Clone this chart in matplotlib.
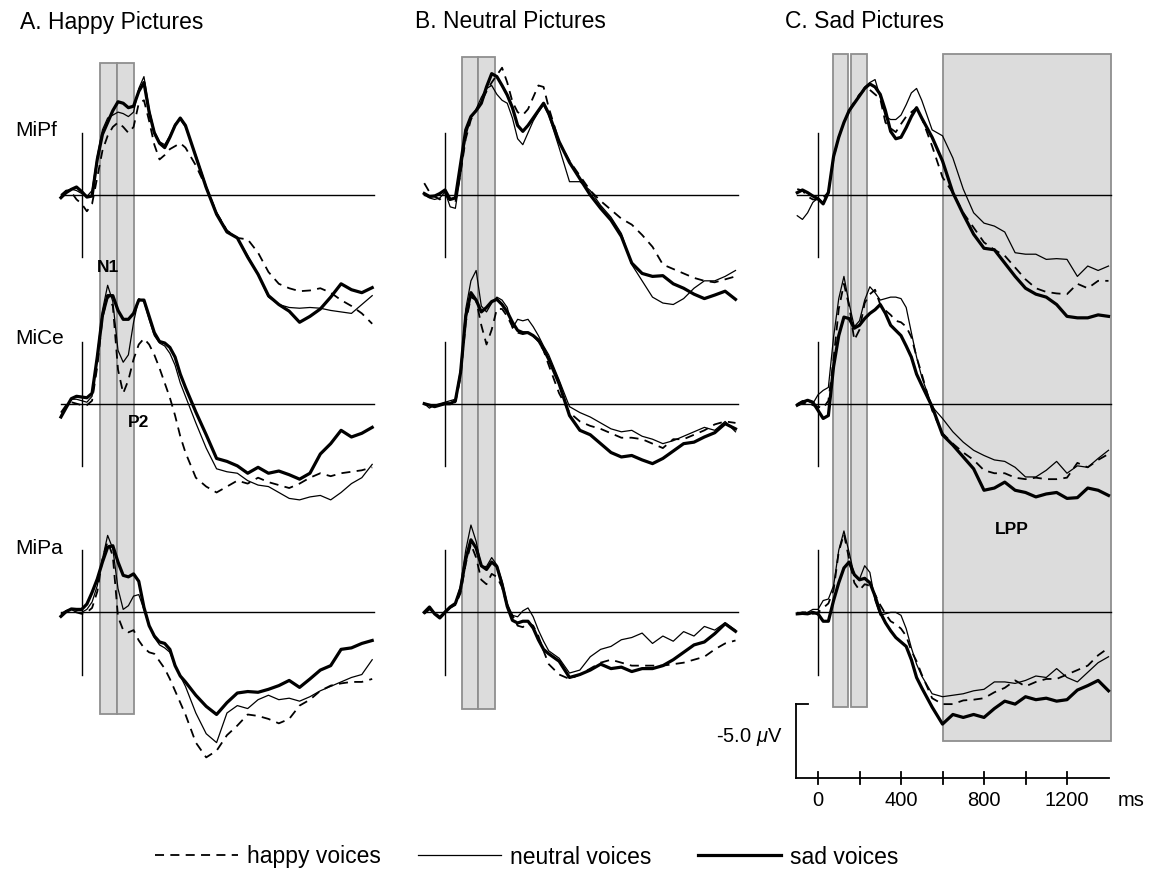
import matplotlib.pyplot as plt
from matplotlib.patches import Rectangle
from matplotlib.lines import Line2D

plt.rcParams['font.family'] = ['Liberation Sans', 'DejaVu Sans']
plt.rcParams['mathtext.fontset'] = 'custom'
plt.rcParams['mathtext.rm'] = 'Liberation Sans'
plt.rcParams['mathtext.it'] = 'Liberation Sans:italic'

# === data: time points (ms) and ERP amplitudes (uV, negative plotted up) ===
t = [-100, -75, -50, -25, 0, 25, 50, 75, 100, 125, 150, 175, 200, 225, 250,
     275, 300, 325, 350, 375, 400, 425, 450, 475, 500,
     550, 600, 650, 700, 750, 800, 850, 900, 950, 1000, 1050, 1100, 1150,
     1200, 1250, 1300, 1350, 1400]

# A. Happy pictures
a_pf_happy = [0.0, -0.3, -0.2, 0.3, 0.6, 1.1, 0.6, -1.2, -3.0, -4.0, -4.6, -4.9, -4.6, -4.2, -4.6,
              -6.2, -6.4, -5.0, -3.4, -2.4, -2.7, -3.1, -3.3, -3.5, -3.2,
              -2.0, -0.5, 1.2, 2.4, 2.9, 3.0, 3.9, 5.2, 6.0, 6.3, 6.5, 6.45, 6.3, 6.6, 7.1, 7.5, 8.0, 8.7]
a_pf_neutral = [0.1, -0.3, -0.4, -0.3, -0.1, 0.1, -0.3, -2.6, -4.4, -5.2, -5.4, -5.6, -5.5, -5.3, -5.6,
                -7.2, -8.0, -5.8, -4.3, -3.6, -3.4, -4.0, -4.8, -5.1, -4.6,
                -2.7, -0.6, 1.2, 2.4, 2.9, 4.1, 5.4, 6.9, 7.4, 7.6, 7.65, 7.6, 7.65, 7.8, 7.9, 8.0, 7.4, 6.8]
a_pf_sad = [0.18, -0.16, -0.38, -0.54, -0.23, 0.14, 0.07, -2.4, -4.1, -4.9, -5.7, -6.3, -6.2, -5.9, -6.0,
            -7.0, -7.6, -5.6, -4.2, -3.5, -3.2, -3.9, -4.7, -5.2, -4.7,
            -2.6, -0.5, 1.3, 2.5, 2.9, 4.2, 5.36, 6.8, 7.4, 7.85, 8.6, 8.2, 7.7, 6.9, 6.0, 6.4, 6.6, 6.26]

a_ce_happy = [0.6, 0.1, -0.1, 0.0, 0.1, 0.1, -0.2, -2.5, -5.8, -7.3, -6.6, -2.3, -0.7, -1.6, -3.0,
              -4.0, -4.4, -4.0, -3.3, -2.4, -1.4, -0.4, 0.8, 2.2, 3.3,
              5.0, 5.6, 6.0, 5.6, 5.2, 5.4, 5.0, 5.3, 5.5, 5.7, 5.4, 5.0, 4.7, 4.9, 4.7, 4.6, 4.5, 4.3]
a_ce_neutral = [0.8, 0.2, -0.3, -0.3, -0.2, -0.1, -0.5, -3.3, -6.3, -8.0, -6.9, -3.6, -2.8, -3.3, -5.5,
                -7.1, -6.9, -5.7, -4.6, -4.1, -3.9, -3.4, -2.6, -1.4, -0.5,
                1.3, 3.0, 4.4, 4.6, 4.7, 5.2, 5.5, 5.6, 6.0, 6.4, 6.5, 6.3, 6.2, 6.5, 6.0, 5.4, 5.0, 4.1]
a_ce_sad = [0.9, 0.27, -0.34, -0.5, -0.45, -0.4, -0.7, -3.15, -5.97, -7.3, -7.3, -6.3, -5.7, -5.7, -6.1,
            -7.0, -7.0, -5.9, -4.8, -4.2, -4.1, -3.8, -3.15, -2.0, -1.1,
            0.56, 2.1, 3.7, 3.9, 4.2, 4.7, 4.3, 4.7, 4.55, 4.8, 5.1, 4.7, 3.4, 2.7, 1.8, 2.25, 2.0, 1.6]

a_pa_happy = [0.1, -0.1, -0.2, 0.0, 0.1, 0.0, -0.3, -1.4, -3.6, -4.8, -3.8, 0.3, 1.2, 1.35, 1.2,
              1.9, 2.4, 2.7, 2.8, 3.3, 3.8, 4.5, 5.3, 6.1, 6.9,
              8.8, 9.8, 9.35, 8.3, 7.65, 6.9, 7.0, 7.2, 7.5, 7.2, 6.3, 5.9, 5.3, 4.95, 4.8, 4.7, 4.7, 4.5]
a_pa_neutral = [0.2, -0.1, -0.2, 0.0, 0.0, -0.2, -0.7, -1.8, -3.6, -5.2, -4.3, -1.6, -0.2, -0.45, -1.1,
                -1.2, -0.2, 0.9, 1.7, 2.2, 2.4, 2.7, 3.6, 4.3, 5.0,
                6.8, 8.2, 8.8, 6.8, 6.3, 6.5, 5.9, 5.6, 5.9, 5.8, 6.0, 5.7, 5.3, 5.0, 4.7, 4.4, 4.2, 3.2]
a_pa_sad = [0.27, -0.05, -0.23, -0.2, -0.2, -0.56, -1.35, -2.25, -3.4, -4.4, -4.5, -3.4, -2.5, -2.4, -2.6,
            -2.1, -0.34, 0.9, 1.6, 2.0, 2.1, 2.5, 3.6, 4.3, 4.7,
            5.6, 6.35, 6.9, 6.1, 5.45, 5.35, 5.4, 5.2, 4.95, 4.6, 5.07, 4.5, 3.9, 3.6, 2.5, 2.4, 2.1, 1.9]

# B. Neutral pictures
b_pf_happy = [-0.8, -0.2, 0.1, 0.3, -0.1, 0.4, 0.5, -1.5, -3.8, -5.1, -5.7, -6.3, -7.0, -7.6, -8.1,
              -8.6, -7.6, -6.3, -5.6, -5.4, -5.8, -6.6, -7.4, -7.3, -5.9,
              -3.6, -2.3, -1.3, -0.3, 0.4, 1.0, 1.6, 2.0, 2.7, 3.5, 4.7, 5.0, 5.3, 5.6, 5.8, 5.9, 5.7, 5.5]
b_pf_neutral = [0.0, 0.2, 0.3, 0.2, -0.2, 0.8, 0.9, -1.4, -4.0, -5.2, -5.8, -6.6, -7.2, -7.4, -6.8,
                -6.4, -6.2, -5.2, -3.8, -3.4, -4.2, -5.0, -5.6, -6.1, -5.4,
                -3.2, -0.9, -0.9, -0.3, 0.7, 1.5, 2.6, 4.7, 5.8, 6.9, 7.3, 7.4, 7.0, 6.3, 5.8, 5.8, 5.5, 5.1]
b_pf_sad = [-0.1, 0.1, 0.07, -0.1, -0.34, 0.3, 0.2, -2.1, -4.4, -5.3, -5.7, -6.2, -7.3, -8.2, -8.0,
            -7.4, -6.75, -5.9, -4.7, -4.3, -4.7, -5.2, -5.7, -6.2, -5.5,
            -3.6, -2.2, -1.1, 0.0, 0.9, 1.7, 2.8, 4.6, 5.3, 5.5, 5.45, 6.0, 6.3, 6.7, 7.0, 6.76, 6.5, 7.05]

b_ce_happy = [0.0, 0.1, 0.2, 0.1, 0.0, 0.0, -0.1, -1.8, -5.5, -7.2, -7.0, -5.3, -4.0, -5.0, -6.4,
              -6.4, -5.9, -5.2, -4.8, -4.7, -4.8, -4.6, -4.2, -3.6, -2.6,
              -0.7, 0.6, 1.2, 1.5, 1.7, 2.0, 2.3, 2.3, 2.4, 2.7, 3.0, 2.4, 2.4, 2.1, 1.8, 1.4, 1.2, 1.3]
b_ce_neutral = [0.0, 0.3, 0.1, 0.0, -0.1, -0.2, -0.3, -2.3, -6.4, -8.3, -9.0, -6.6, -6.2, -6.8, -7.2,
                -7.0, -6.5, -5.1, -5.7, -5.6, -5.7, -5.2, -4.6, -3.9, -3.3,
                -1.6, 0.2, 0.6, 0.9, 1.3, 1.7, 1.9, 1.8, 2.2, 2.4, 2.7, 2.5, 2.2, 1.9, 1.6, 1.8, 1.2, 1.9]
b_ce_sad = [0.0, 0.1, 0.2, 0.1, 0.0, 0.0, -0.2, -2.1, -5.9, -7.5, -7.0, -6.2, -6.5, -6.9, -7.05,
            -6.7, -6.2, -5.5, -4.95, -4.8, -4.8, -4.6, -4.3, -3.7, -3.0,
            -1.35, 0.8, 1.8, 2.1, 2.7, 3.3, 3.6, 3.5, 3.8, 4.05, 3.7, 3.2, 2.7, 2.6, 2.25, 1.96, 1.35, 1.7]

b_pa_happy = [0.1, -0.2, 0.0, 0.3, 0.0, -0.3, -0.5, -1.3, -3.3, -4.6, -3.7, -2.2, -1.9, -2.6, -2.4,
              -1.7, -0.4, 0.2, 0.9, 1.0, 0.7, 0.9, 1.6, 2.6, 3.5,
              4.2, 4.5, 4.2, 3.8, 3.4, 3.2, 3.4, 3.6, 3.6, 3.6, 3.6, 3.5, 3.4, 3.2, 3.0, 2.5, 2.1, 1.9]
b_pa_neutral = [0.0, -0.3, 0.1, 0.3, -0.1, -0.4, -0.6, -1.8, -4.2, -5.9, -4.8, -3.1, -3.1, -3.7, -3.2,
                -2.1, -0.6, 0.2, 0.3, -0.1, -0.3, 0.3, 1.2, 1.95, 2.6,
                3.1, 4.1, 3.9, 3.0, 2.5, 2.3, 1.85, 1.7, 1.4, 2.1, 1.6, 1.95, 1.3, 1.6, 0.95, 1.2, 0.7, 1.2]
b_pa_sad = [0.0, -0.36, 0.1, 0.38, 0.0, -0.36, -0.6, -1.6, -3.6, -4.9, -4.35, -3.15, -2.9, -3.4, -3.1,
            -1.9, -0.4, 0.54, 0.72, 0.6, 0.6, 1.06, 1.85, 2.5, 2.8,
            3.3, 4.4, 4.2, 3.9, 3.5, 3.8, 3.7, 4.0, 3.8, 3.8, 3.6, 3.2, 2.7, 2.2, 2.0, 1.44, 0.77, 1.28]

# C. Sad pictures
c_pf_happy = [-0.4, -0.3, 0.1, 0.3, 0.3, 0.2, -0.2, -2.5, -3.9, -4.9, -5.7, -6.3, -6.8, -7.1, -7.1,
              -6.8, -6.5, -4.9, -4.5, -4.25, -4.8, -5.3, -5.6, -5.9, -5.2,
              -3.3, -1.2, -0.15, 1.2, 2.2, 3.2, 3.7, 4.1, 4.9, 5.7, 6.3, 6.55, 6.65, 6.7, 6.0, 6.3, 5.8, 5.8]
c_pf_neutral = [1.4, 1.65, 1.2, 0.5, 0.2, 0.55, -0.2, -2.6, -3.9, -4.9, -5.6, -6.2, -6.7, -7.3, -7.6,
                -7.8, -6.6, -5.3, -5.1, -5.1, -5.4, -6.1, -6.9, -7.2, -6.4,
                -4.4, -4.0, -2.5, -0.4, 1.2, 1.9, 2.1, 2.5, 3.9, 4.0, 4.0, 4.35, 4.3, 4.35, 5.5, 4.8, 5.1, 4.8]
c_pf_sad = [-0.16, -0.34, -0.16, 0.07, 0.25, 0.6, -0.16, -2.6, -3.9, -4.9, -5.7, -6.2, -6.7, -7.2, -7.5,
            -7.3, -6.8, -5.7, -4.3, -3.8, -3.9, -4.55, -5.3, -5.9, -5.2,
            -3.9, -2.3, -0.16, 1.3, 2.65, 3.6, 3.7, 4.6, 5.5, 6.3, 6.7, 6.9, 7.4, 8.2, 8.3, 8.3, 8.1, 8.2]

c_ce_happy = [0.1, 0.0, -0.1, 0.1, 0.2, 0.3, -0.2, -3.0, -6.4, -8.1, -6.6, -4.3, -5.0, -6.8, -7.4,
              -7.7, -6.7, -6.3, -6.0, -5.6, -5.5, -5.2, -4.5, -3.15, -2.0,
              0.45, 2.0, 2.7, 3.3, 3.8, 4.5, 4.7, 4.7, 5.0, 5.1, 5.0, 5.1, 5.1, 5.0, 4.0, 4.3, 3.8, 3.4]
c_ce_neutral = [0.0, -0.2, -0.2, 0.0, -0.6, -0.9, -1.1, -4.5, -7.1, -8.6, -6.75, -5.2, -5.6, -7.0, -7.9,
                -7.5, -7.0, -7.1, -7.2, -7.2, -7.1, -6.5, -4.8, -3.15, -1.8,
                0.2, 1.0, 1.9, 2.6, 3.15, 3.5, 3.8, 3.9, 4.3, 4.95, 4.95, 4.5, 3.9, 4.7, 4.2, 4.3, 3.7, 3.15]
c_ce_sad = [0.1, -0.1, -0.23, -0.1, 0.45, 1.0, 0.8, -2.5, -4.6, -5.85, -5.75, -5.1, -5.3, -5.75, -6.1,
            -6.35, -6.7, -6.1, -5.3, -4.95, -4.6, -3.9, -3.15, -2.0, -1.25,
            0.2, 2.1, 2.8, 3.6, 4.4, 5.85, 5.7, 5.3, 5.85, 6.0, 6.3, 6.1, 6.0, 6.4, 6.35, 5.7, 5.85, 6.2]

c_pa_happy = [0.1, 0.0, 0.0, 0.1, 0.0, -0.3, -0.6, -1.5, -4.1, -5.3, -3.6, -2.0, -1.5, -1.9, -1.8,
              -1.2, -0.5, 0.1, 0.6, 0.8, 1.1, 1.6, 2.6, 3.3, 4.2,
              5.8, 6.2, 6.2, 5.95, 5.9, 5.8, 5.4, 5.1, 4.6, 5.0, 4.7, 4.5, 4.5, 4.2, 3.9, 3.6, 2.9, 2.4]
c_pa_neutral = [0.1, 0.1, 0.0, -0.2, -0.2, -0.8, -0.9, -1.8, -4.2, -5.5, -4.05, -2.5, -2.25, -3.15, -2.7,
                -0.8, 0.2, 0.1, 0.0, 0.0, 0.2, 1.1, 2.4, 3.5, 4.3,
                5.5, 5.7, 5.6, 5.5, 5.3, 5.2, 4.7, 4.7, 4.8, 4.6, 4.3, 4.4, 3.8, 4.4, 4.7, 4.05, 3.4, 3.0]
c_pa_sad = [0.1, 0.07, 0.1, 0.0, 0.1, 0.6, 0.6, -0.8, -2.0, -3.0, -3.4, -2.55, -2.2, -2.3, -2.0,
            -1.1, 0.0, 0.7, 1.24, 1.7, 2.0, 2.3, 3.2, 4.4, 5.1,
            6.4, 7.55, 6.9, 7.1, 6.9, 7.1, 6.5, 6.0, 6.2, 5.7, 5.9, 5.8, 6.0, 5.9, 5.25, 4.95, 4.6, 5.3]

titles = ["A. Happy Pictures", "B. Neutral Pictures", "C. Sad Pictures"]
sites = ["MiPf", "MiCe", "MiPa"]
legend_labels = ["happy voices", "neutral voices", "sad voices"]

# analysis windows (ms) per panel, and their vertical extent (uV)
windows = [[(90, 170), (170, 250)], [(83, 160), (160, 241)], [(70, 146), (158, 235)]]
window_span = [(-8.9, 35.1), (-9.3, 34.7), (-9.5, 34.6)]
lpp_window = (600, 1410)
lpp_span = (-9.5, 36.9)
scale_ticks = [0, 200, 400, 600, 800, 1000, 1200]
scale_labels = [0, 400, 800, 1200]

curves = [
    [(a_pf_happy, a_pf_neutral, a_pf_sad), (a_ce_happy, a_ce_neutral, a_ce_sad), (a_pa_happy, a_pa_neutral, a_pa_sad)],
    [(b_pf_happy, b_pf_neutral, b_pf_sad), (b_ce_happy, b_ce_neutral, b_ce_sad), (b_pa_happy, b_pa_neutral, b_pa_sad)],
    [(c_pf_happy, c_pf_neutral, c_pf_sad), (c_ce_happy, c_ce_neutral, c_ce_sad), (c_pa_happy, c_pa_neutral, c_pa_sad)],
]

# === layout ===
W, H = 1155, 874
fig = plt.figure(figsize=(W / 100, H / 100), dpi=100)
px_ms = 0.2075      # pixels per ms
px_uv = 14.8        # pixels per uV
row_gap = 14.1      # uV between stacked sites
onset_px = [81.7, 445, 818]

styles = [dict(color='black', lw=1.3, ls=(0, (5, 3.5))),
          dict(color='black', lw=0.9, ls='-'),
          dict(color='black', lw=2.3, ls='-')]

rect_face = '#dcdcdc'
rect_edge = '#8f8f8f'

axes = []
for p in range(3):
    left = onset_px[p] - 150 * px_ms
    ax = fig.add_axes([left / W, (H - (195 + 41 * px_uv)) / H, 1600 * px_ms / W, 51 * px_uv / H])
    ax.set_xlim(-150, 1450)
    ax.set_ylim(41, -10)
    ax.axis('off')
    axes.append(ax)

    top, bot = window_span[p]
    for (w0, w1) in windows[p]:
        ax.add_patch(Rectangle((w0, top), w1 - w0, bot - top, facecolor=rect_face,
                               edgecolor=rect_edge, lw=1.3, zorder=1))
    if p == 2:
        ax.add_patch(Rectangle((lpp_window[0], lpp_span[0]), lpp_window[1] - lpp_window[0],
                               lpp_span[1] - lpp_span[0], facecolor=rect_face,
                               edgecolor=rect_edge, lw=1.3, zorder=0.9))

    for r in range(3):
        off = r * row_gap
        ax.plot([-100, 1410], [off, off], color='black', lw=1.0, zorder=2)
        ax.plot([0, 0], [off - 4.2, off + 4.2], color='black', lw=1.0, zorder=2)
        for k in range(3):
            y = [v + off for v in curves[p][r][k]]
            ax.plot(t, y, zorder=3, solid_joinstyle='round', **styles[k])

# scale bar / time axis in panel C
ax = axes[2]
sb_top = 34.4
sb_bot = sb_top + 5.0
ax.plot([-105, -105], [sb_top, sb_bot], color='black', lw=1.3, clip_on=False)
ax.plot([-105, -50], [sb_top, sb_top], color='black', lw=1.3, clip_on=False)
ax.plot([-105, 1400], [sb_bot, sb_bot], color='black', lw=1.3, clip_on=False)
for tk in scale_ticks:
    ax.plot([tk, tk], [sb_bot - 0.4, sb_bot + 0.4], color='black', lw=1.3, clip_on=False)
for lb in scale_labels:
    ax.text(lb, sb_bot + 1.5, str(lb), ha='center', va='center', fontsize=14.5)
ax.text(1508, sb_bot + 1.5, "ms", ha='center', va='center', fontsize=14.5)
ax.text(-170, sb_top + 2.2, "-5.0 $\\mu$V", ha='right', va='center', fontsize=14.5)

# === texts ===
def ftext(x, y, s, **kw):
    fig.text(x / W, 1 - y / H, s, **kw)

for p, x in enumerate([20, 415, 785]):
    ftext(x, 22, titles[p], ha='left', va='center', fontsize=16.5)
for s, y in zip(sites, [130, 339, 548]):
    ftext(15, y, s, ha='left', va='center', fontsize=15)
ftext(108, 268, "N1", ha='center', va='center', fontsize=12.5, fontweight='bold')
ftext(139, 423, "P2", ha='center', va='center', fontsize=12.5, fontweight='bold')
ftext(1012, 529, "LPP", ha='center', va='center', fontsize=12.5, fontweight='bold')

# legend: one entry per position, as in the original layout
for k, x in enumerate([155, 418, 698]):
    fig.legend([Line2D([], [], **styles[k])], [legend_labels[k]], loc='center left',
               bbox_to_anchor=(x / W, 17 / H), frameon=False, fontsize=16.5,
               handlelength=3.6, handletextpad=0.4, borderpad=0, borderaxespad=0)

fig.savefig("out.png", dpi=100)
